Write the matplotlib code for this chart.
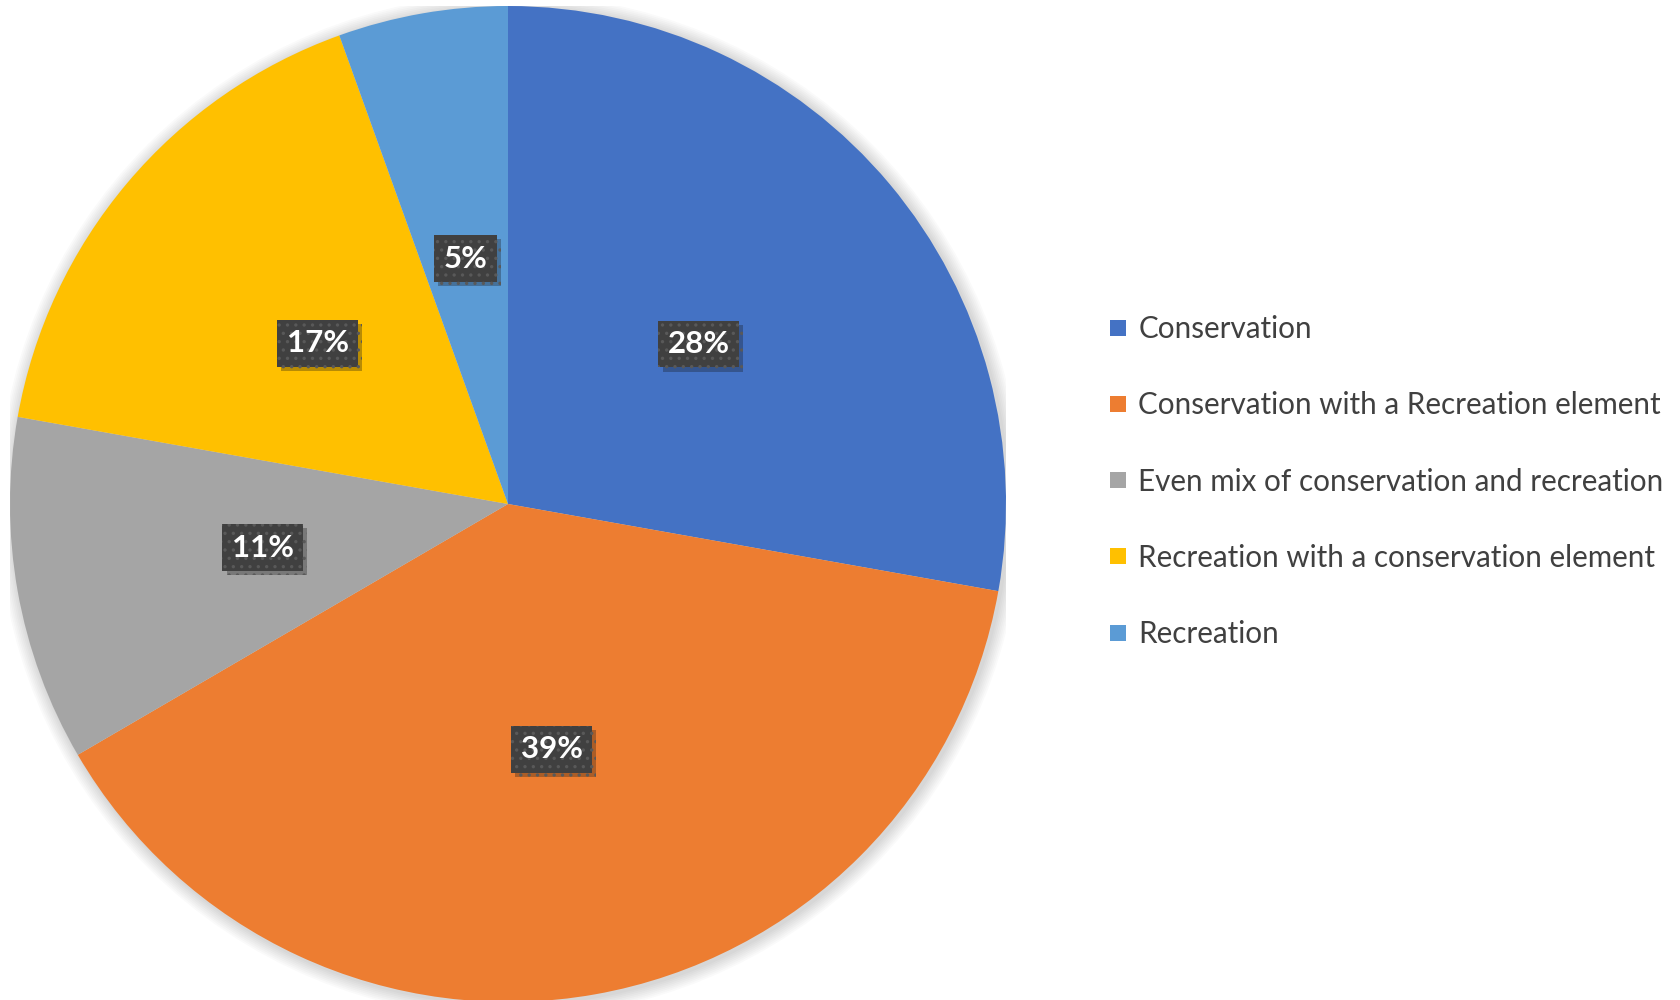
import matplotlib
matplotlib.use("Agg")
import matplotlib.pyplot as plt
import matplotlib.patheffects as pe
from matplotlib.lines import Line2D
from matplotlib.patches import Circle

categories = [
    "Conservation",
    "Conservation with a Recreation element",
    "Even mix of conservation and recreation",
    "Recreation with a conservation element",
    "Recreation",
]
shares = [27.8, 38.8, 11.2, 16.7, 5.5]
share_labels = ["28%", "39%", "11%", "17%", "5%"]
colors = ["#4472C4", "#ED7D31", "#A5A5A5", "#FFC000", "#5B9BD5"]

plt.rcParams["font.family"] = ["Lato", "DejaVu Sans"]
plt.rcParams["hatch.linewidth"] = 1.2

fig = plt.figure(figsize=(16.8, 10), dpi=100)
fig.patch.set_facecolor("white")

# pie area: centre ~ (508, 504) px, radius ~498 px
ax = fig.add_axes([10 / 1680, (1000 - 504 - 498) / 1000, 996 / 1680, 996 / 1000])

# soft halo behind the pie
for k in range(8):
    ax.add_patch(Circle((0.004, -0.004), 1.0 + 0.0035 * (k + 1), color="#000000",
                        alpha=0.018, lw=0, zorder=0))

wedges, texts = ax.pie(shares, colors=colors, labels=share_labels, labeldistance=0.5,
                       startangle=90, counterclock=False, radius=1.0,
                       wedgeprops=dict(linewidth=0),
                       textprops=dict(color="white", fontsize=22.5, fontweight="bold"))
ax.set_xlim(-1, 1)
ax.set_ylim(-1, 1)
ax.set_aspect("equal")
ax.axis("off")
for w in wedges:
    w.set_zorder(2)

for t in texts:
    t.set_ha("center")
    t.set_va("center")
    t.set_zorder(5)
    t.set_bbox(dict(boxstyle="square,pad=0.3", facecolor="#404040",
                    edgecolor="#595959", linewidth=0, hatch=".."))
    t.get_bbox_patch().set_path_effects(
        [pe.SimplePatchShadow(offset=(3, -3), alpha=0.3), pe.Normal()])

handles = [Line2D([0], [0], marker="s", linestyle="none", markersize=12,
                  markerfacecolor=c, markeredgewidth=0) for c in colors]
leg = fig.legend(handles, categories, loc="center left",
                 bbox_to_anchor=(1091 / 1680, 0.5185), frameon=False,
                 fontsize=21.3, labelspacing=1.63, handlelength=0.8,
                 handletextpad=0.3, borderpad=0)
for txt in leg.get_texts():
    txt.set_color("#404040")

fig.savefig("out.png", dpi=100, facecolor="white")
